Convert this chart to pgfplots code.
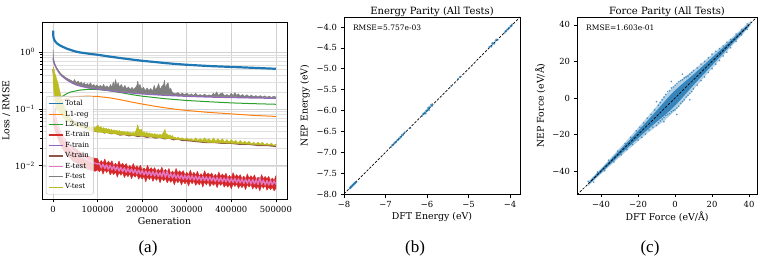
\documentclass[border=0pt]{standalone}
\usepackage{fontspec}
\setmainfont{DejaVu Serif}
\newfontfamily\capfont{Liberation Serif}
\usepackage{pgfplots}
\pgfplotsset{compat=1.18}

\definecolor{tabblue}{HTML}{1F77B4}
\definecolor{taborange}{HTML}{FF7F0E}
\definecolor{tabgreen}{HTML}{2CA02C}
\definecolor{tabred}{HTML}{D62728}
\definecolor{tabpurple}{HTML}{9467BD}
\definecolor{tabbrown}{HTML}{8C564B}
\definecolor{tabpink}{HTML}{E377C2}
\definecolor{tabgray}{HTML}{7F7F7F}
\definecolor{tabolive}{HTML}{BCBD22}

\pgfplotsset{
  panel/.style={
    scale only axis,
    anchor=south west,
    axis line style={black, line width=0.8bp},
    tick align=outside,
    tick pos=left,
    major tick length=3.5bp,
    minor tick length=2bp,
    every tick/.style={black, line width=0.6bp},
    tick label style={font=\fontsize{8.4bp}{10bp}\selectfont},
    label style={font=\fontsize{9.4bp}{11bp}\selectfont},
    title style={font=\fontsize{10bp}{12bp}\selectfont, at={(0.5,1)}, anchor=south, yshift=-7bp, inner sep=1.5bp},
    /pgf/number format/assume math mode=true,
    every axis plot/.append style={line join=round},
  },
}

\begin{document}
\begin{tikzpicture}
\path[use as bounding box] (0,0) rectangle (763bp,262bp);

% ---------------- (a) training curves ----------------
\begin{axis}[panel,
  at={(42bp,63bp)}, width=245bp, height=177bp,
  ymode=log, xmin=-25000, xmax=525000, ymin=2.6e-3, ymax=3.4,
  xtick={0,100000,200000,300000,400000,500000},
  xticklabels={0,100000,200000,300000,400000,500000},
  scaled x ticks=false,
  ytick={0.01,0.1,1},
  yticklabels={10\textsuperscript{−2},10\textsuperscript{−1},10\textsuperscript{0}},
  xmajorgrids, ymajorgrids, yminorgrids,
  major grid style={black!18, line width=0.6bp},
  minor grid style={black!12, line width=0.5bp},
  xlabel={Generation}, ylabel={Loss / RMSE},
  xlabel style={yshift=2bp},
  ylabel style={yshift=-2bp},
  legend cell align=left,
  legend style={at={(0.016,0.026)}, anchor=south west,
    font=\fontsize{7bp}{8.5bp}\selectfont,
    draw=black!25, rounded corners=2bp, fill=white, fill opacity=0.8,
    draw opacity=1, text opacity=1, inner sep=1.8bp,
    row sep=-0.2bp},
  legend image code/.code={\draw[#1, line width=1.2bp] (0bp,0bp) -- (14bp,0bp);},
]
% Total
\addplot[tabblue, line width=2.2bp] coordinates {
(0,2.4) (500,1.9) (1500,1.75) (3000,1.62) (6000,1.5) (10000,1.4) (15000,1.32)
(20000,1.26) (30000,1.16) (40000,1.09) (50000,1.03) (60000,0.99) (80000,0.94)
(100000,0.9) (125000,0.84) (150000,0.79) (175000,0.745) (200000,0.705)
(225000,0.675) (250000,0.645) (275000,0.62) (300000,0.6) (325000,0.585)
(350000,0.57) (375000,0.56) (400000,0.55) (425000,0.54) (450000,0.53)
(475000,0.52) (500000,0.51)};
\addlegendentry{Total}
% L1-reg
\addplot[taborange, line width=1bp] coordinates {
(0,0.05) (5000,0.09) (10000,0.115) (20000,0.14) (30000,0.152) (40000,0.16)
(60000,0.167) (80000,0.168) (100000,0.166) (125000,0.158) (150000,0.146)
(175000,0.133) (200000,0.122) (225000,0.113) (250000,0.105) (275000,0.099)
(300000,0.094) (350000,0.087) (400000,0.082) (450000,0.077) (500000,0.074)};
\addlegendentry{L1-reg}
% L2-reg
\addplot[tabgreen, line width=1bp] coordinates {
(0,0.05) (5000,0.1) (10000,0.13) (20000,0.165) (30000,0.185) (40000,0.2)
(60000,0.215) (80000,0.222) (100000,0.22) (125000,0.21) (150000,0.195)
(175000,0.18) (200000,0.168) (250000,0.152) (300000,0.141) (350000,0.134)
(400000,0.128) (450000,0.124) (500000,0.121)};
\addlegendentry{L2-reg}
% E-train: noisy band, upper trace then lower trace
\addplot[tabred, fill=tabred, line width=0.4bp] coordinates {
(0,0.11) (10000,0.055) (20000,0.035) (30000,0.027) (40000,0.022) (50000,0.02)
(60000,0.0175) (70000,0.016) (80000,0.0148) (90000,0.0138)
(100000,0.0133) (104000,0.0110) (108000,0.0124) (112000,0.0111) (116000,0.0132)
(120000,0.0108) (124000,0.0121) (128000,0.0109) (132000,0.0123) (136000,0.0100)
(140000,0.0111) (144000,0.0100) (148000,0.0122) (152000,0.0100) (156000,0.0111)
(160000,0.0099) (164000,0.0110) (168000,0.0092) (172000,0.0102) (176000,0.0092)
(180000,0.0110) (184000,0.0090) (188000,0.0100) (192000,0.0090) (196000,0.0102)
(200000,0.0083) (204000,0.0092) (208000,0.0083) (212000,0.0102) (216000,0.0084)
(220000,0.0093) (224000,0.0084) (228000,0.0093) (232000,0.0079) (236000,0.0088)
(240000,0.0079) (244000,0.0095) (248000,0.0078) (252000,0.0087) (256000,0.0078)
(260000,0.0090) (264000,0.0073) (268000,0.0081) (272000,0.0073) (276000,0.0090)
(280000,0.0074) (284000,0.0082) (288000,0.0074) (292000,0.0082) (296000,0.0069)
(300000,0.0077) (304000,0.0069) (308000,0.0084) (312000,0.0069) (316000,0.0077)
(320000,0.0069) (324000,0.0080) (328000,0.0066) (332000,0.0073) (336000,0.0066)
(340000,0.0082) (344000,0.0068) (348000,0.0075) (352000,0.0068) (356000,0.0075)
(360000,0.0064) (364000,0.0071) (368000,0.0064) (372000,0.0078) (376000,0.0065)
(380000,0.0072) (384000,0.0065) (388000,0.0074) (392000,0.0061) (396000,0.0068)
(400000,0.0061) (404000,0.0076) (408000,0.0063) (412000,0.0070) (416000,0.0063)
(420000,0.0070) (424000,0.0059) (428000,0.0066) (432000,0.0059) (436000,0.0072)
(440000,0.0060) (444000,0.0067) (448000,0.0060) (452000,0.0069) (456000,0.0057)
(460000,0.0063) (464000,0.0057) (468000,0.0070) (472000,0.0059) (476000,0.0065)
(480000,0.0059) (484000,0.0065) (488000,0.0055) (492000,0.0061) (496000,0.0055)
(500000,0.0067)
(500000,0.0040) (496000,0.0036) (492000,0.0042) (488000,0.0038) (484000,0.0042)
(480000,0.0037) (476000,0.0045) (472000,0.0040) (468000,0.0045) (464000,0.0036)
(460000,0.0044) (456000,0.0039) (452000,0.0044) (448000,0.0039) (444000,0.0047)
(440000,0.0042) (436000,0.0047) (432000,0.0038) (428000,0.0046) (424000,0.0041)
(420000,0.0046) (416000,0.0040) (412000,0.0048) (408000,0.0043) (404000,0.0048)
(400000,0.0039) (396000,0.0047) (392000,0.0042) (388000,0.0047) (384000,0.0042)
(380000,0.0050) (376000,0.0045) (372000,0.0050) (368000,0.0041) (364000,0.0050)
(360000,0.0045) (356000,0.0050) (352000,0.0043) (348000,0.0052) (344000,0.0046)
(340000,0.0052) (336000,0.0042) (332000,0.0052) (328000,0.0046) (324000,0.0051)
(320000,0.0045) (316000,0.0054) (312000,0.0048) (308000,0.0054) (304000,0.0044)
(300000,0.0054) (296000,0.0048) (292000,0.0054) (288000,0.0046) (284000,0.0056)
(280000,0.0050) (276000,0.0056) (272000,0.0046) (268000,0.0057) (264000,0.0051)
(260000,0.0057) (256000,0.0050) (252000,0.0060) (248000,0.0054) (244000,0.0061)
(240000,0.0050) (236000,0.0062) (232000,0.0055) (228000,0.0062) (224000,0.0053)
(220000,0.0064) (216000,0.0057) (212000,0.0064) (208000,0.0052) (204000,0.0065)
(200000,0.0058) (196000,0.0065) (192000,0.0058) (188000,0.0070) (184000,0.0063)
(180000,0.0070) (176000,0.0059) (172000,0.0072) (168000,0.0064) (164000,0.0071)
(160000,0.0062) (156000,0.0076) (152000,0.0068) (148000,0.0076) (144000,0.0063)
(140000,0.0078) (136000,0.0070) (132000,0.0077) (128000,0.0069) (124000,0.0085)
(120000,0.0076) (116000,0.0085) (112000,0.0071) (108000,0.0087) (104000,0.0078)
(100000,0.0085) (95000,0.008) (85000,0.0083) (75000,0.0088) (65000,0.0095)
(55000,0.011) (45000,0.012) (35000,0.0145) (25000,0.018) (15000,0.025)
(5000,0.04) (0,0.06)} -- cycle;
\addlegendentry{E-train}
% F-train
\addplot[tabpurple, line width=1.5bp] coordinates {
(0,0.78) (1000,0.7) (3000,0.62) (6000,0.55) (10000,0.48) (15000,0.42)
(20000,0.38) (30000,0.33) (40000,0.295) (50000,0.27) (60000,0.255)
(80000,0.235) (100000,0.225) (125000,0.212) (150000,0.2) (175000,0.192)
(200000,0.185) (250000,0.175) (300000,0.168) (350000,0.163) (400000,0.16)
(450000,0.157) (500000,0.155)};
\addlegendentry{F-train}
% V-train
\addplot[tabbrown, line width=1.6bp] coordinates {
(0,0.5) (2000,0.35) (5000,0.25) (10000,0.17) (15000,0.13) (20000,0.105)
(30000,0.08) (40000,0.065) (50000,0.057) (60000,0.052) (70000,0.047)
(80000,0.044) (90000,0.042) (100000,0.04) (110000,0.041) (115000,0.038)
(120000,0.04) (130000,0.037) (140000,0.038) (150000,0.035) (160000,0.036)
(170000,0.034) (180000,0.035) (190000,0.033) (200000,0.034) (210000,0.032)
(220000,0.033) (230000,0.031) (240000,0.032) (250000,0.030) (260000,0.031)
(270000,0.029) (280000,0.030) (290000,0.028) (300000,0.028) (320000,0.027)
(340000,0.026) (360000,0.026) (380000,0.025) (400000,0.025) (420000,0.024)
(440000,0.024) (460000,0.023) (480000,0.023) (500000,0.022)};
\addlegendentry{V-train}
% E-test
\addplot[tabpink, line width=1.4bp] coordinates {
(0,0.12) (3000,0.08) (6000,0.062) (10000,0.05) (15000,0.04) (20000,0.033)
(25000,0.028) (30000,0.025) (35000,0.022) (40000,0.02) (45000,0.0185)
(50000,0.0172) (55000,0.016) (60000,0.0152) (65000,0.0143) (70000,0.0136)
(75000,0.013) (80000,0.0124) (85000,0.012) (90000,0.0115) (95000,0.011)
(100000,0.0108) (104000,0.0110) (108000,0.0092) (112000,0.0107) (116000,0.0090)
(120000,0.0104) (124000,0.0087) (128000,0.0102) (132000,0.0085) (136000,0.0099)
(140000,0.0083) (144000,0.0097) (148000,0.0081) (152000,0.0094) (156000,0.0079)
(160000,0.0092) (164000,0.0077) (168000,0.0090) (172000,0.0076) (176000,0.0088)
(180000,0.0074) (184000,0.0086) (188000,0.0072) (192000,0.0084) (196000,0.0071)
(200000,0.0083) (204000,0.0069) (208000,0.0081) (212000,0.0068) (216000,0.0080)
(220000,0.0067) (224000,0.0079) (228000,0.0066) (232000,0.0078) (236000,0.0065)
(240000,0.0076) (244000,0.0064) (248000,0.0081) (252000,0.0063) (256000,0.0079)
(260000,0.0062) (264000,0.0073) (268000,0.0061) (272000,0.0072) (276000,0.0060)
(280000,0.0070) (284000,0.0059) (288000,0.0069) (292000,0.0058) (296000,0.0068)
(300000,0.0058) (304000,0.0068) (308000,0.0057) (312000,0.0067) (316000,0.0056)
(320000,0.0066) (324000,0.0056) (328000,0.0065) (332000,0.0055) (336000,0.0065)
(340000,0.0055) (344000,0.0064) (348000,0.0054) (352000,0.0064) (356000,0.0054)
(360000,0.0063) (364000,0.0053) (368000,0.0062) (372000,0.0053) (376000,0.0062)
(380000,0.0052) (384000,0.0061) (388000,0.0052) (392000,0.0061) (396000,0.0051)
(400000,0.0060) (404000,0.0051) (408000,0.0060) (412000,0.0050) (416000,0.0059)
(420000,0.0050) (424000,0.0059) (428000,0.0049) (432000,0.0058) (436000,0.0049)
(440000,0.0058) (444000,0.0048) (448000,0.0057) (452000,0.0048) (456000,0.0057)
(460000,0.0047) (464000,0.0062) (468000,0.0047) (472000,0.0056) (476000,0.0046)
(480000,0.0055) (484000,0.0046) (488000,0.0055) (492000,0.0046) (496000,0.0054)
(500000,0.0047)};
\addlegendentry{E-test}
% F-test: spiky upper trace, closed back along its lower trace
\addplot[tabgray, fill=tabgray, line width=0.5bp] coordinates {
(0,1.1) (500,0.8) (2000,0.68) (5000,0.58) (10000,0.5) (15000,0.44) (20000,0.4)
(30000,0.35) (40000,0.32) (45000,0.3) (48000,0.33) (52000,0.29) (56000,0.31)
(60000,0.28) (63000,0.3) (66000,0.27) (70000,0.29) (73000,0.265) (77000,0.28)
(80000,0.26) (84000,0.29) (87000,0.255) (91000,0.27) (95000,0.25) (98000,0.265)
(102000,0.245) (106000,0.26) (110000,0.24) (113000,0.27) (117000,0.24)
(121000,0.255) (125000,0.235) (129000,0.27) (132000,0.24) (135000,0.3)
(137000,0.245) (140000,0.33) (143000,0.26) (146000,0.29) (149000,0.24)
(153000,0.27) (157000,0.23) (161000,0.26) (165000,0.225) (169000,0.245)
(173000,0.22) (177000,0.24) (181000,0.22) (185000,0.24) (188000,0.26)
(190000,0.31) (192000,0.25) (195000,0.27) (199000,0.22) (203000,0.24)
(207000,0.21) (211000,0.235) (215000,0.21) (219000,0.23) (223000,0.205)
(227000,0.26) (230000,0.215) (234000,0.245) (237000,0.28) (240000,0.22)
(244000,0.25) (248000,0.27) (250000,0.32) (252000,0.23) (255000,0.27)
(258000,0.29) (261000,0.22) (264000,0.23) (267000,0.2) (270000,0.19)
(275000,0.185) (280000,0.195) (285000,0.18) (290000,0.19) (295000,0.178)
(300000,0.19) (305000,0.175) (310000,0.185) (315000,0.173) (320000,0.188)
(325000,0.172) (330000,0.18) (335000,0.171) (340000,0.183) (345000,0.17)
(350000,0.178) (355000,0.17) (360000,0.19) (363000,0.175) (367000,0.2)
(371000,0.172) (375000,0.185) (380000,0.192) (385000,0.17) (390000,0.18)
(395000,0.168) (400000,0.19) (404000,0.17) (408000,0.195) (412000,0.172)
(416000,0.185) (420000,0.168) (425000,0.18) (430000,0.166) (435000,0.178)
(440000,0.165) (445000,0.175) (450000,0.164) (455000,0.172) (460000,0.163)
(465000,0.172) (470000,0.162) (475000,0.17) (480000,0.161) (485000,0.168)
(490000,0.16) (495000,0.167) (500000,0.163)
(500000,0.16) (450000,0.162) (400000,0.165) (350000,0.168) (300000,0.173)
(250000,0.18) (200000,0.19) (175000,0.198) (150000,0.206) (125000,0.218)
(100000,0.232) (80000,0.242) (60000,0.262) (50000,0.278) (40000,0.304)
(30000,0.34) (20000,0.39) (15000,0.43) (10000,0.49) (6000,0.56) (3000,0.63)
(1000,0.71) (0,0.8)} -- cycle;
\addlegendentry{F-test}
% V-test: noisy band, upper trace then lower trace
\addplot[tabolive, fill=tabolive, line width=0.5bp] coordinates {
(0,0.55) (2000,0.5) (4000,0.42) (6000,0.38) (8000,0.33) (10000,0.3) (12000,0.26)
(14000,0.22) (16000,0.19) (18000,0.165) (20000,0.145) (23000,0.125)
(26000,0.105) (29000,0.092) (32000,0.082) (35000,0.075) (38000,0.068)
(41000,0.063) (44000,0.06) (47000,0.057) (50000,0.058) (53000,0.054)
(56000,0.056) (59000,0.052) (62000,0.054) (65000,0.05) (68000,0.052)
(71000,0.049) (74000,0.051) (77000,0.048) (80000,0.05) (83000,0.047)
(86000,0.049) (89000,0.046) (92000,0.048) (95000,0.046) (98000,0.05)
(101000,0.052) (104000,0.046) (107000,0.049) (110000,0.045) (113000,0.047)
(116000,0.044) (119000,0.046) (122000,0.043) (125000,0.045) (128000,0.042)
(131000,0.044) (134000,0.041) (137000,0.043) (140000,0.041) (143000,0.042)
(146000,0.04) (149000,0.042) (152000,0.039) (155000,0.041) (158000,0.039)
(161000,0.04) (164000,0.038) (167000,0.04) (170000,0.038) (173000,0.039)
(176000,0.037) (179000,0.039) (182000,0.037) (185000,0.04) (188000,0.046)
(190000,0.053) (192000,0.045) (195000,0.042) (198000,0.044) (201000,0.038)
(204000,0.04) (207000,0.037) (210000,0.039) (213000,0.036) (216000,0.038)
(219000,0.036) (222000,0.037) (225000,0.035) (228000,0.037) (231000,0.035)
(234000,0.036) (237000,0.034) (240000,0.036) (243000,0.034) (246000,0.037)
(249000,0.04) (251000,0.044) (253000,0.037) (256000,0.036) (259000,0.034)
(262000,0.035) (265000,0.033) (268000,0.034) (271000,0.031) (274000,0.032)
(277000,0.03) (280000,0.032) (285000,0.03) (290000,0.031) (295000,0.029)
(300000,0.031) (305000,0.029) (310000,0.03) (315000,0.028) (320000,0.031)
(325000,0.028) (330000,0.03) (335000,0.028) (340000,0.031) (345000,0.028)
(350000,0.03) (355000,0.027) (360000,0.031) (365000,0.027) (370000,0.03)
(375000,0.027) (380000,0.03) (385000,0.026) (390000,0.029) (395000,0.026)
(400000,0.029) (405000,0.026) (410000,0.028) (415000,0.025) (420000,0.028)
(425000,0.025) (430000,0.027) (435000,0.025) (440000,0.027) (445000,0.024)
(450000,0.026) (455000,0.024) (460000,0.026) (465000,0.024) (470000,0.026)
(475000,0.023) (480000,0.025) (485000,0.023) (490000,0.025) (495000,0.023)
(500000,0.024)
(500000,0.0228) (450000,0.0238) (400000,0.025) (350000,0.0258) (300000,0.0285)
(250000,0.0305) (200000,0.0335) (150000,0.0355) (100000,0.0395) (80000,0.043)
(60000,0.048) (50000,0.05) (40000,0.055) (30000,0.062) (20000,0.075)
(10000,0.1) (5000,0.12) (2000,0.2) (0,0.3)} -- cycle;
\addlegendentry{V-test}
\end{axis}

% ---------------- (b) energy parity ----------------
\begin{axis}[panel,
  at={(344bp,68bp)}, width=176bp, height=177bp,
  xmin=-8, xmax=-3.76, ymin=-8, ymax=-3.76,
  xtick={-8,-7,-6,-5,-4}, xticklabels={−8,−7,−6,−5,−4},
  ytick={-8,-7.5,-7,-6.5,-6,-5.5,-5,-4.5,-4},
  yticklabels={−8.0,−7.5,−7.0,−6.5,−6.0,−5.5,−5.0,−4.5,−4.0},
  title={Energy Parity (All Tests)},
  xlabel={DFT Energy (eV)}, ylabel={NEP Energy (eV)},
  xlabel style={yshift=2bp},
]
\addplot[only marks, mark=*, mark size=0.9bp, tabblue, mark options={fill opacity=0.5, draw opacity=0.5}] coordinates {
(-7.86,-7.87) (-7.85,-7.84) (-7.84,-7.85) (-7.83,-7.82) (-7.82,-7.83) (-7.81,-7.80)
(-7.80,-7.81) (-7.79,-7.78) (-7.78,-7.79) (-7.77,-7.76) (-7.76,-7.77) (-7.75,-7.74)
(-7.74,-7.75) (-7.73,-7.72) (-7.72,-7.73) (-7.70,-7.71)
(-6.86,-6.87) (-6.84,-6.83) (-6.82,-6.83) (-6.80,-6.79) (-6.78,-6.79) (-6.76,-6.75)
(-6.74,-6.75) (-6.72,-6.71) (-6.70,-6.71) (-6.68,-6.67) (-6.66,-6.67) (-6.64,-6.63)
(-6.62,-6.63) (-6.60,-6.58) (-6.58,-6.59) (-6.56,-6.55) (-6.53,-6.52)
(-6.40,-6.42)
(-6.12,-6.13) (-6.10,-6.09) (-6.08,-6.09) (-6.06,-6.05) (-6.04,-6.05) (-6.02,-6.00)
(-6.00,-6.01) (-5.98,-5.97) (-5.97,-5.93) (-5.96,-5.97) (-5.94,-5.93) (-5.92,-5.90)
(-5.95,-5.99) (-5.90,-5.86) (-5.88,-5.89) (-5.87,-5.85) (-6.03,-6.07)
(-5.42,-5.41) (-5.25,-5.24) (-5.20,-5.19)
(-4.50,-4.48) (-4.47,-4.46) (-4.45,-4.47) (-4.43,-4.40) (-4.40,-4.39) (-4.38,-4.40)
(-4.35,-4.33) (-4.33,-4.30) (-4.30,-4.31) (-4.42,-4.38)
(-4.13,-4.14) (-4.11,-4.10) (-4.09,-4.10) (-4.07,-4.06) (-4.05,-4.06) (-4.03,-4.02)
(-4.01,-4.02) (-3.99,-3.98) (-3.97,-3.98) (-3.95,-3.94)};
\addplot[black, line width=0.7bp, dash pattern=on 2.5bp off 1.5bp] coordinates {(-8,-8) (-3.76,-3.76)};
\node[anchor=north west, font=\fontsize{7.5bp}{9bp}\selectfont, inner sep=0pt] at (rel axis cs:0.05,0.955) {RMSE=5.757e-03};
\end{axis}

% ---------------- (c) force parity ----------------
\begin{axis}[panel,
  at={(577bp,68bp)}, width=180bp, height=177bp,
  xmin=-53, xmax=44.3, ymin=-52.5, ymax=44.3,
  xtick={-40,-20,0,20,40}, xticklabels={−40,−20,0,20,40},
  ytick={-40,-20,0,20,40}, yticklabels={−40,−20,0,20,40},
  title={Force Parity (All Tests)},
  xlabel={DFT Force (eV/Å)}, ylabel={NEP Force (eV/Å)},
  xlabel style={yshift=2bp},
]
% outer, sparser part of the cloud
\addplot[fill=tabblue, fill opacity=0.35, draw=none] coordinates {
(-47,-45.8) (-40,-38.5) (-35,-33.1) (-30,-27.5) (-25,-22.0) (-20,-16.3) (-15,-10.6)
(-10,-4.5) (-6,0.8) (-3,3.8) (0,7.0) (3,9.6) (6,12.2) (10,15.2) (15,19.5)
(20,23.8) (25,28.0) (30,32.3) (35,36.9) (41,42.2)
(41,39.8) (35,33.1) (30,27.7) (25,22.0) (20,16.2) (15,10.5) (10,4.8) (6,-0.2)
(3,-3.6) (0,-7.0) (-3,-9.8) (-6,-12.6) (-10,-15.5) (-15,-19.3) (-20,-23.6)
(-25,-27.9) (-30,-32.4) (-35,-36.9) (-40,-41.5) (-47,-48.2)} -- cycle;
% dense core of the cloud
\addplot[fill=tabblue, fill opacity=0.85, draw=none] coordinates {
(-46,-45.4) (-40,-39.1) (-35,-33.9) (-30,-28.7) (-25,-23.4) (-20,-18.0) (-15,-12.5)
(-10,-6.9) (-6,-2.3) (-3,1.1) (0,4.2) (3,6.9) (6,9.5) (10,12.9) (15,17.5)
(20,22.1) (25,26.7) (30,31.3) (35,36.0) (40,40.7)
(40,39.3) (35,34.0) (30,28.7) (25,23.3) (20,17.9) (15,12.5) (10,7.1) (6,2.5)
(3,-0.9) (0,-4.2) (-3,-7.1) (-6,-9.7) (-10,-13.1) (-15,-17.5) (-20,-22.0)
(-25,-26.6) (-30,-31.3) (-35,-36.1) (-40,-40.9) (-46,-46.6)} -- cycle;
\addplot[only marks, mark=*, mark size=0.7bp, tabblue, mark options={fill opacity=0.55, draw opacity=0.55}] coordinates {
(-47,-45.5) (-44,-46) (-42,-40.5) (-38,-39.8) (-36,-34) (-33,-35) (-31,-29)
(-29,-31) (-27,-25) (-26,-28.2) (-24,-21.5) (-23,-25.5) (-21,-18) (-20,-23)
(-19,-16) (-18,-21.5) (-17,-13.5) (-16,-19.8) (-15,-11) (-14,-17.5) (-13,-9)
(-12,-16) (-11,-6.5) (-10,-15) (-9,-4) (-9,-13.5) (-8,-2.5) (-8,-12.5) (-7,-1)
(-7,-11.5) (-6,0.5) (-6,-10.5) (-5,2) (-5,-9.5) (-4,3.5) (-4,-9) (-3,4)
(-3,-8.5) (-2,5.5) (-2,-7.5) (-1,6) (-1,-6.8) (0,7) (0,-6.5) (1,8) (1,-5.5)
(2,9) (2,-4.5) (3,9.5) (3,-3) (4,10) (4,-2) (5,11) (5,-1) (6,11.5) (6,0.5)
(7,12) (7,1.5) (8,13) (8,2.5) (9,14) (9,3.5) (10,15) (10,5) (12,16.5) (12,7)
(14,18.5) (14,9.5) (16,20) (16,11.5) (18,22) (18,14) (20,24) (20,16) (22,25.5)
(22,18.5) (24,27) (24,20.5) (26,28.5) (26,23) (28,30.5) (28,25) (30,32)
(30,27.5) (33,35) (33,31) (36,37.5) (36,34.5) (39,40.5) (39,37.5) (-2,9)
(4,13) (-6,-13) (1,-9) (8,-1) (-10,-2)};
\addplot[black, line width=0.7bp, dash pattern=on 2.5bp off 1.5bp] coordinates {(-53,-53) (44.3,44.3)};
\node[anchor=north west, font=\fontsize{7.5bp}{9bp}\selectfont, inner sep=0pt] at (rel axis cs:0.05,0.955) {RMSE=1.603e-01};
\end{axis}

% sub-figure captions
\node[font=\capfont\fontsize{17bp}{19bp}\selectfont] at (148bp,14bp) {(a)};
\node[font=\capfont\fontsize{17bp}{19bp}\selectfont] at (415bp,14bp) {(b)};
\node[font=\capfont\fontsize{17bp}{19bp}\selectfont] at (650bp,14bp) {(c)};
\end{tikzpicture}
\end{document}
